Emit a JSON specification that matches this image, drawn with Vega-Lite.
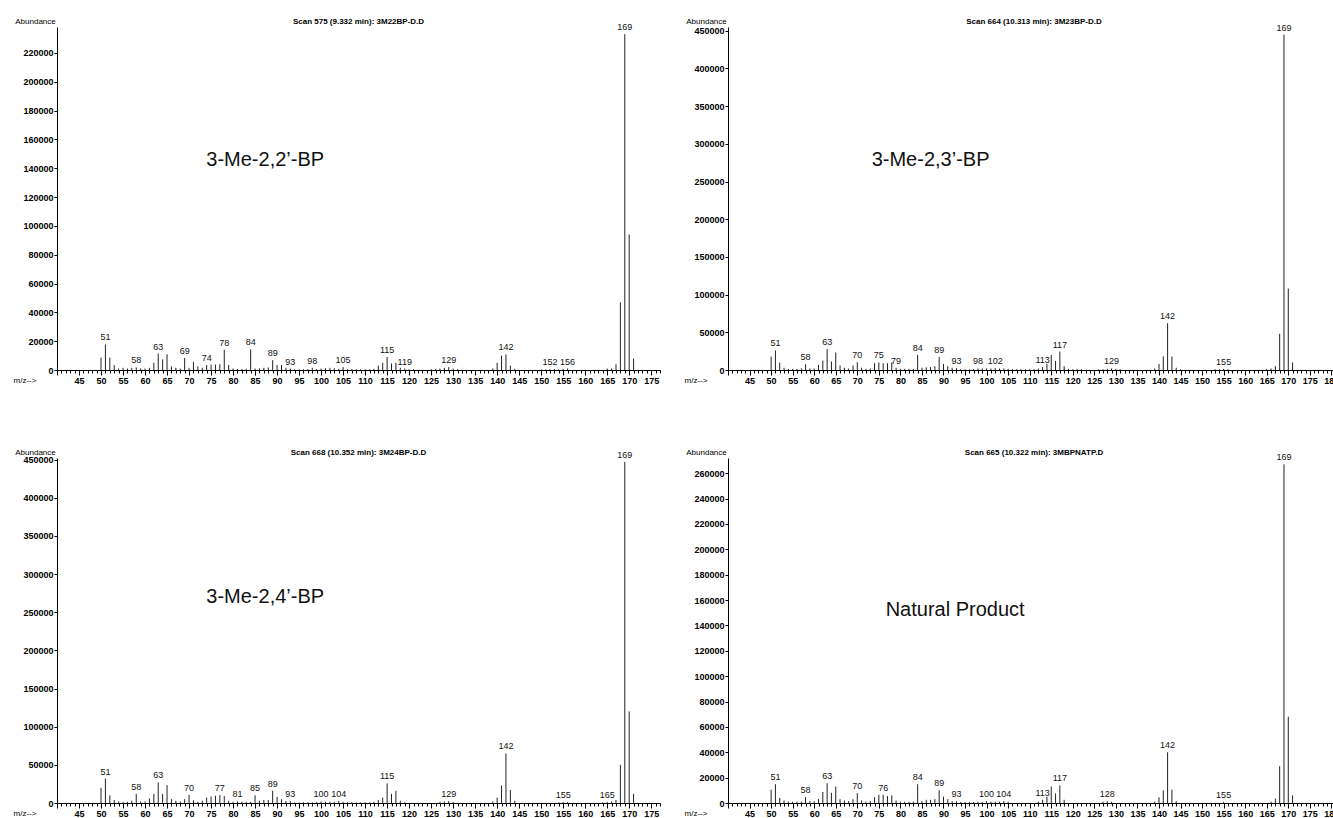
{
  "$schema": "https://vega.github.io/schema/vega-lite/v6.json",
  "padding": {"left": 13, "top": 17, "right": 0, "bottom": 0},
  "spacing": 63,
  "datasets": {
    "tl": [
      {"m":50,"a":8600},{"m":51,"a":17700,"l":"51"},{"m":52,"a":8600},{"m":53,"a":3400},{"m":54,"a":1000},{"m":55,"a":1500},{"m":56,"a":1000},{"m":57,"a":1500},{"m":58,"a":1800,"l":"58"},{"m":59,"a":1000},{"m":60,"a":1000},{"m":61,"a":1500},{"m":62,"a":5000},{"m":63,"a":11400,"l":"63"},{"m":64,"a":7300},{"m":65,"a":10900},{"m":66,"a":2500},{"m":67,"a":1500},{"m":68,"a":1000},{"m":69,"a":8400,"l":"69"},{"m":70,"a":1500},{"m":71,"a":5700},{"m":72,"a":2500},{"m":73,"a":1500},{"m":74,"a":3400,"l":"74"},{"m":75,"a":3800},{"m":76,"a":3800},{"m":77,"a":4000},{"m":78,"a":14100,"l":"78"},{"m":79,"a":3500},{"m":80,"a":1000},{"m":81,"a":700},{"m":82,"a":700},{"m":83,"a":700},{"m":84,"a":14300,"l":"84"},{"m":85,"a":1000},{"m":86,"a":1200},{"m":87,"a":1500},{"m":88,"a":1700},{"m":89,"a":6800,"l":"89"},{"m":90,"a":3500},{"m":91,"a":3500},{"m":92,"a":1500},{"m":93,"a":1000,"l":"93"},{"m":94,"a":500},{"m":95,"a":500},{"m":96,"a":500},{"m":97,"a":500},{"m":98,"a":1500,"l":"98"},{"m":99,"a":700},{"m":100,"a":1000},{"m":101,"a":1200},{"m":102,"a":1500},{"m":103,"a":1200},{"m":104,"a":800},{"m":105,"a":2000,"l":"105"},{"m":106,"a":500},{"m":107,"a":500},{"m":108,"a":500},{"m":109,"a":500},{"m":110,"a":500},{"m":111,"a":500},{"m":112,"a":800},{"m":113,"a":3000},{"m":114,"a":5000},{"m":115,"a":9000,"l":"115"},{"m":116,"a":4500},{"m":117,"a":5000},{"m":118,"a":1500},{"m":119,"a":1000,"l":"119"},{"m":120,"a":500},{"m":121,"a":500},{"m":125,"a":500},{"m":126,"a":500},{"m":127,"a":1000},{"m":128,"a":1500},{"m":129,"a":2000,"l":"129"},{"m":130,"a":1000},{"m":131,"a":500},{"m":139,"a":1000},{"m":140,"a":5000},{"m":141,"a":10000},{"m":142,"a":10800,"l":"142"},{"m":143,"a":3000},{"m":144,"a":800},{"m":150,"a":400},{"m":151,"a":400},{"m":152,"a":500,"l":"152"},{"m":153,"a":600},{"m":154,"a":500},{"m":155,"a":700},{"m":156,"a":1000,"l":"156"},{"m":165,"a":1000},{"m":166,"a":1000},{"m":167,"a":4000},{"m":168,"a":47000},{"m":169,"a":233000,"l":"169"},{"m":170,"a":94000},{"m":171,"a":8000}
    ],
    "tr": [
      {"m":50,"a":17800},{"m":51,"a":25900,"l":"51"},{"m":52,"a":9800},{"m":53,"a":3000},{"m":54,"a":1500},{"m":55,"a":1500},{"m":56,"a":1500},{"m":57,"a":2000},{"m":58,"a":7600,"l":"58"},{"m":59,"a":2000},{"m":60,"a":2000},{"m":61,"a":6700},{"m":62,"a":12500},{"m":63,"a":27700,"l":"63"},{"m":64,"a":11200},{"m":65,"a":23200},{"m":66,"a":6000},{"m":67,"a":3000},{"m":68,"a":2000},{"m":69,"a":6000},{"m":70,"a":10300,"l":"70"},{"m":71,"a":3000},{"m":72,"a":1500},{"m":73,"a":2000},{"m":74,"a":9000},{"m":75,"a":10000,"l":"75"},{"m":76,"a":9000},{"m":77,"a":9000},{"m":78,"a":10000},{"m":79,"a":3000,"l":"79"},{"m":80,"a":1500},{"m":81,"a":1500},{"m":82,"a":1500},{"m":83,"a":1500},{"m":84,"a":20000,"l":"84"},{"m":85,"a":3000},{"m":86,"a":3500},{"m":87,"a":4000},{"m":88,"a":5000},{"m":89,"a":17000,"l":"89"},{"m":90,"a":8000},{"m":91,"a":5000},{"m":92,"a":3000},{"m":93,"a":2500,"l":"93"},{"m":94,"a":1000},{"m":95,"a":1000},{"m":96,"a":1000},{"m":97,"a":1000},{"m":98,"a":2000,"l":"98"},{"m":99,"a":2000},{"m":100,"a":2000},{"m":101,"a":2000},{"m":102,"a":2500,"l":"102"},{"m":103,"a":2000},{"m":104,"a":2000},{"m":105,"a":1500},{"m":106,"a":1000},{"m":107,"a":1000},{"m":108,"a":1000},{"m":109,"a":1000},{"m":110,"a":1000},{"m":111,"a":1000},{"m":112,"a":2000},{"m":113,"a":4000,"l":"113"},{"m":114,"a":8000},{"m":115,"a":20000},{"m":116,"a":12000},{"m":117,"a":24500,"l":"117"},{"m":118,"a":5000},{"m":119,"a":1500},{"m":120,"a":1000},{"m":121,"a":1000},{"m":122,"a":1000},{"m":126,"a":1000},{"m":127,"a":1000},{"m":128,"a":1500},{"m":129,"a":2000,"l":"129"},{"m":130,"a":1500},{"m":131,"a":1000},{"m":139,"a":2000},{"m":140,"a":8000},{"m":141,"a":18000},{"m":142,"a":62000,"l":"142"},{"m":143,"a":18000},{"m":144,"a":3000},{"m":145,"a":1000},{"m":153,"a":1000},{"m":154,"a":1000},{"m":155,"a":1500,"l":"155"},{"m":156,"a":1000},{"m":165,"a":1500},{"m":166,"a":2000},{"m":167,"a":5000},{"m":168,"a":48000},{"m":169,"a":445000,"l":"169"},{"m":170,"a":108000},{"m":171,"a":10000}
    ],
    "bl": [
      {"m":50,"a":19900},{"m":51,"a":32000,"l":"51"},{"m":52,"a":10000},{"m":53,"a":4000},{"m":54,"a":2000},{"m":55,"a":1500},{"m":56,"a":1500},{"m":57,"a":3000},{"m":58,"a":12000,"l":"58"},{"m":59,"a":2000},{"m":60,"a":2000},{"m":61,"a":6000},{"m":62,"a":12000},{"m":63,"a":27000,"l":"63"},{"m":64,"a":12000},{"m":65,"a":23500},{"m":66,"a":5000},{"m":67,"a":3000},{"m":68,"a":2000},{"m":69,"a":5000},{"m":70,"a":10500,"l":"70"},{"m":71,"a":3500},{"m":72,"a":1500},{"m":73,"a":3000},{"m":74,"a":7000},{"m":75,"a":8500},{"m":76,"a":9500},{"m":77,"a":10500,"l":"77"},{"m":78,"a":9000},{"m":79,"a":3000},{"m":80,"a":1500},{"m":81,"a":2000,"l":"81"},{"m":82,"a":1500},{"m":83,"a":1500},{"m":84,"a":1500},{"m":85,"a":10000,"l":"85"},{"m":86,"a":3000},{"m":87,"a":4000},{"m":88,"a":4000},{"m":89,"a":16000,"l":"89"},{"m":90,"a":8000},{"m":91,"a":5000},{"m":92,"a":2500},{"m":93,"a":2500,"l":"93"},{"m":94,"a":1000},{"m":95,"a":1000},{"m":96,"a":1000},{"m":97,"a":1000},{"m":98,"a":1000},{"m":99,"a":1000},{"m":100,"a":2000,"l":"100"},{"m":101,"a":1500},{"m":102,"a":1500},{"m":103,"a":1500},{"m":104,"a":2500,"l":"104"},{"m":105,"a":1500},{"m":106,"a":800},{"m":107,"a":800},{"m":108,"a":800},{"m":109,"a":800},{"m":110,"a":800},{"m":111,"a":800},{"m":112,"a":1500},{"m":113,"a":4000},{"m":114,"a":7000},{"m":115,"a":25600,"l":"115"},{"m":116,"a":12000},{"m":117,"a":16000},{"m":118,"a":3000},{"m":119,"a":1000},{"m":127,"a":1500},{"m":128,"a":2000},{"m":129,"a":2500,"l":"129"},{"m":130,"a":1500},{"m":139,"a":2000},{"m":140,"a":7000},{"m":141,"a":23000},{"m":142,"a":65000,"l":"142"},{"m":143,"a":17000},{"m":144,"a":3000},{"m":154,"a":1000},{"m":155,"a":1500,"l":"155"},{"m":156,"a":1000},{"m":164,"a":1000},{"m":165,"a":1500,"l":"165"},{"m":166,"a":2000},{"m":167,"a":4000},{"m":168,"a":50000},{"m":169,"a":447000,"l":"169"},{"m":170,"a":120000},{"m":171,"a":12000}
    ],
    "br": [
      {"m":50,"a":10500},{"m":51,"a":14800,"l":"51"},{"m":52,"a":4000},{"m":53,"a":2000},{"m":54,"a":1000},{"m":55,"a":1000},{"m":56,"a":1000},{"m":57,"a":1000},{"m":58,"a":4600,"l":"58"},{"m":59,"a":1500},{"m":60,"a":1500},{"m":61,"a":3000},{"m":62,"a":8700},{"m":63,"a":15600,"l":"63"},{"m":64,"a":8000},{"m":65,"a":13000},{"m":66,"a":3000},{"m":67,"a":2000},{"m":68,"a":1500},{"m":69,"a":3000},{"m":70,"a":7700,"l":"70"},{"m":71,"a":2000},{"m":72,"a":1000},{"m":73,"a":1500},{"m":74,"a":4500},{"m":75,"a":6500},{"m":76,"a":6500,"l":"76"},{"m":77,"a":5500},{"m":78,"a":6000},{"m":79,"a":2000},{"m":80,"a":1000},{"m":81,"a":1000},{"m":82,"a":1000},{"m":83,"a":1000},{"m":84,"a":14800,"l":"84"},{"m":85,"a":1500},{"m":86,"a":2500},{"m":87,"a":2500},{"m":88,"a":3000},{"m":89,"a":10000,"l":"89"},{"m":90,"a":5000},{"m":91,"a":3000},{"m":92,"a":1500},{"m":93,"a":1500,"l":"93"},{"m":94,"a":800},{"m":95,"a":800},{"m":96,"a":800},{"m":97,"a":800},{"m":98,"a":800},{"m":99,"a":800},{"m":100,"a":1500,"l":"100"},{"m":101,"a":1000},{"m":102,"a":1000},{"m":103,"a":1000},{"m":104,"a":1500,"l":"104"},{"m":105,"a":1000},{"m":112,"a":1000},{"m":113,"a":2500,"l":"113"},{"m":114,"a":5000},{"m":115,"a":13000},{"m":116,"a":7500},{"m":117,"a":13800,"l":"117"},{"m":118,"a":2500},{"m":127,"a":1000},{"m":128,"a":1500,"l":"128"},{"m":129,"a":1000},{"m":139,"a":1000},{"m":140,"a":4500},{"m":141,"a":10000},{"m":142,"a":40000,"l":"142"},{"m":143,"a":10500},{"m":144,"a":1500},{"m":155,"a":1000,"l":"155"},{"m":166,"a":1000},{"m":167,"a":3500},{"m":168,"a":29000},{"m":169,"a":267000,"l":"169"},{"m":170,"a":68000},{"m":171,"a":6000}
    ]
  },
  "vconcat": [
    {
      "spacing": 23,
      "hconcat": [
        {
          "width": 603, "height": 343,
          "title": {"text": "Scan 575 (9.332 min): 3M22BP-D.D"},
          "encoding": {
            "x": {"field": "m", "type": "quantitative", "scale": {"domain": [40, 177], "nice": false, "zero": false},
              "axis": {"tickCount": 140, "labelExpr": "datum.value % 5 === 0 && datum.value >= 45 ? datum.label : ''", "tickSize": {"condition": {"test": "datum.value % 5 === 0", "value": 5}, "value": 3}, "labelOverlap": false, "title": "m/z-->", "titleX": -44, "titleY": 10.5, "titleAlign": "left", "titleBaseline": "middle"}},
            "y": {"field": "a", "type": "quantitative", "scale": {"domain": [0, 238000], "nice": false},
              "axis": {"values": [0,20000,40000,60000,80000,100000,120000,140000,160000,180000,200000,220000], "format": "d", "title": "Abundance", "titleX": -22, "titleY": -6}}
          },
          "layer": [
            {"data": {"name": "tl"}, "mark": {"type": "rule", "color": "#222", "strokeWidth": 1}, "encoding": {"y2": {"datum": 0}}},
            {"data": {"name": "tl"}, "transform": [{"filter": "datum.l"}], "mark": {"type": "text", "baseline": "bottom", "dy": -2, "fontSize": 9, "color": "#111"}, "encoding": {"text": {"field": "l"}}},
            {"data": {"values": [{"m": 87.3, "a": 146000, "t": "3-Me-2,2’-BP"}]}, "mark": {"type": "text", "fontSize": 20, "color": "#111"}, "encoding": {"text": {"field": "t"}}}
          ]
        },
        {
          "width": 612, "height": 343,
          "title": {"text": "Scan 664 (10.313 min): 3M23BP-D.D"},
          "encoding": {
            "x": {"field": "m", "type": "quantitative", "scale": {"domain": [40, 182], "nice": false, "zero": false},
              "axis": {"tickCount": 142, "labelExpr": "datum.value % 5 === 0 && datum.value >= 45 ? datum.label : ''", "tickSize": {"condition": {"test": "datum.value % 5 === 0", "value": 5}, "value": 3}, "labelOverlap": false, "title": "m/z-->", "titleX": -44, "titleY": 10.5, "titleAlign": "left", "titleBaseline": "middle"}},
            "y": {"field": "a", "type": "quantitative", "scale": {"domain": [0, 455000], "nice": false},
              "axis": {"values": [0,50000,100000,150000,200000,250000,300000,350000,400000,450000], "format": "d", "title": "Abundance", "titleX": -22, "titleY": -6}}
          },
          "layer": [
            {"data": {"name": "tr"}, "mark": {"type": "rule", "color": "#222", "strokeWidth": 1}, "encoding": {"y2": {"datum": 0}}},
            {"data": {"name": "tr"}, "transform": [{"filter": "datum.l"}], "mark": {"type": "text", "baseline": "bottom", "dy": -2, "fontSize": 9, "color": "#111"}, "encoding": {"text": {"field": "l"}}},
            {"data": {"values": [{"m": 87, "a": 279000, "t": "3-Me-2,3’-BP"}]}, "mark": {"type": "text", "fontSize": 20, "color": "#111"}, "encoding": {"text": {"field": "t"}}}
          ]
        }
      ]
    },
    {
      "spacing": 23,
      "hconcat": [
        {
          "width": 603, "height": 345,
          "title": {"text": "Scan 668 (10.352 min): 3M24BP-D.D"},
          "encoding": {
            "x": {"field": "m", "type": "quantitative", "scale": {"domain": [40, 177], "nice": false, "zero": false},
              "axis": {"tickCount": 140, "labelExpr": "datum.value % 5 === 0 && datum.value >= 45 ? datum.label : ''", "tickSize": {"condition": {"test": "datum.value % 5 === 0", "value": 5}, "value": 3}, "labelOverlap": false, "title": "m/z-->", "titleX": -44, "titleY": 10.5, "titleAlign": "left", "titleBaseline": "middle"}},
            "y": {"field": "a", "type": "quantitative", "scale": {"domain": [0, 452000], "nice": false},
              "axis": {"values": [0,50000,100000,150000,200000,250000,300000,350000,400000,450000], "format": "d", "title": "Abundance", "titleX": -22, "titleY": -6}}
          },
          "layer": [
            {"data": {"name": "bl"}, "mark": {"type": "rule", "color": "#222", "strokeWidth": 1}, "encoding": {"y2": {"datum": 0}}},
            {"data": {"name": "bl"}, "transform": [{"filter": "datum.l"}], "mark": {"type": "text", "baseline": "bottom", "dy": -2, "fontSize": 9, "color": "#111"}, "encoding": {"text": {"field": "l"}}},
            {"data": {"values": [{"m": 87.3, "a": 270000, "t": "3-Me-2,4’-BP"}]}, "mark": {"type": "text", "fontSize": 20, "color": "#111"}, "encoding": {"text": {"field": "t"}}}
          ]
        },
        {
          "width": 612, "height": 345,
          "title": {"text": "Scan 665 (10.322 min): 3MBPNATP.D"},
          "encoding": {
            "x": {"field": "m", "type": "quantitative", "scale": {"domain": [40, 182], "nice": false, "zero": false},
              "axis": {"tickCount": 142, "labelExpr": "datum.value % 5 === 0 && datum.value >= 45 ? datum.label : ''", "tickSize": {"condition": {"test": "datum.value % 5 === 0", "value": 5}, "value": 3}, "labelOverlap": false, "title": "m/z-->", "titleX": -44, "titleY": 10.5, "titleAlign": "left", "titleBaseline": "middle"}},
            "y": {"field": "a", "type": "quantitative", "scale": {"domain": [0, 272000], "nice": false},
              "axis": {"values": [0,20000,40000,60000,80000,100000,120000,140000,160000,180000,200000,220000,240000,260000], "format": "d", "title": "Abundance", "titleX": -22, "titleY": -6}}
          },
          "layer": [
            {"data": {"name": "br"}, "mark": {"type": "rule", "color": "#222", "strokeWidth": 1}, "encoding": {"y2": {"datum": 0}}},
            {"data": {"name": "br"}, "transform": [{"filter": "datum.l"}], "mark": {"type": "text", "baseline": "bottom", "dy": -2, "fontSize": 9, "color": "#111"}, "encoding": {"text": {"field": "l"}}},
            {"data": {"values": [{"m": 92.7, "a": 152000, "t": "Natural Product"}]}, "mark": {"type": "text", "fontSize": 20, "color": "#111"}, "encoding": {"text": {"field": "t"}}}
          ]
        }
      ]
    }
  ],
  "config": {
    "font": "Liberation Sans",
    "view": {"stroke": null},
    "axis": {"grid": false, "domainColor": "#000", "tickColor": "#000", "labelColor": "#000", "titleColor": "#000", "labelFont": "Liberation Sans", "titleFont": "Liberation Sans", "labelFontWeight": "bold", "labelFontSize": 9, "titleFontSize": 8, "titleFontWeight": "normal", "domainWidth": 1, "tickWidth": 1, "labelPadding": 1},
    "axisY": {"tickSize": 3, "titleAngle": 0, "titleAlign": "center", "titleBaseline": "middle", "labelPadding": 1},
    "title": {"font": "Liberation Sans", "fontSize": 8, "fontWeight": "bold", "color": "#000", "offset": -9, "anchor": "middle"}
  }
}
